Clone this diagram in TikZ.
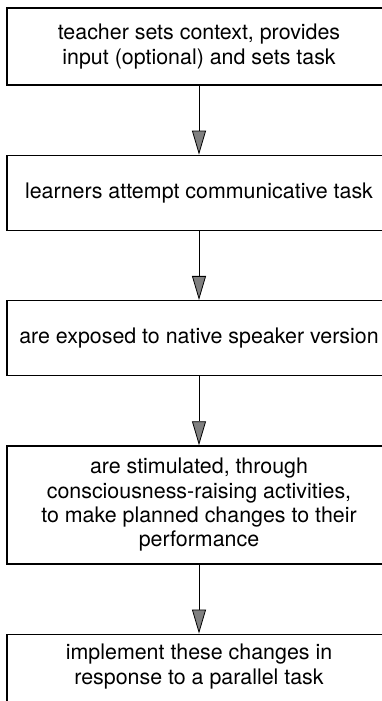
\documentclass[tikz,border=0pt]{standalone}
\usepackage{fontspec}
\setmainfont{TeX Gyre Heros}
\usetikzlibrary{arrows.meta, positioning}
\tikzset{
		stage box/.style={draw, rectangle, line width=1.3pt, inner sep=0pt, minimum width=384pt, align=center, font=\fontsize{21.4}{24.3}\selectfont},
		flow/.style={-{Triangle[length=24pt, width=14pt, fill=black!50]}, line width=0.8pt}
	}

\begin{document}
\begin{tikzpicture}[node distance=69pt]
				\useasboundingbox (0,0) rectangle (382pt,-701pt);
				\clip (0,0) rectangle (382pt,-701pt);
				\node[stage box, minimum height=77pt]  (s1) at (199pt,-46.5pt) {teacher sets context, provides\\input (optional) and sets task};
				\node[stage box, minimum height=75pt]  (s2) [below=of s1]       {learners attempt communicative task};
				\node[stage box, minimum height=75pt]  (s3) [below=of s2]       {are exposed to native speaker version};
				\node[stage box, minimum height=118pt] (s4) [below=of s3]       {are stimulated, through\\consciousness-raising activities,\\to make planned changes to their\\performance};
				\node[stage box, minimum height=80pt, text depth=20pt] (s5) [below=of s4] {implement these changes in\\response to a parallel task};
				
				\draw[flow] (s1) -- (s2);
				\draw[flow] (s2) -- (s3);
				\draw[flow] (s3) -- (s4);
				\draw[flow] (s4) -- (s5);
			\end{tikzpicture}
\end{document}
